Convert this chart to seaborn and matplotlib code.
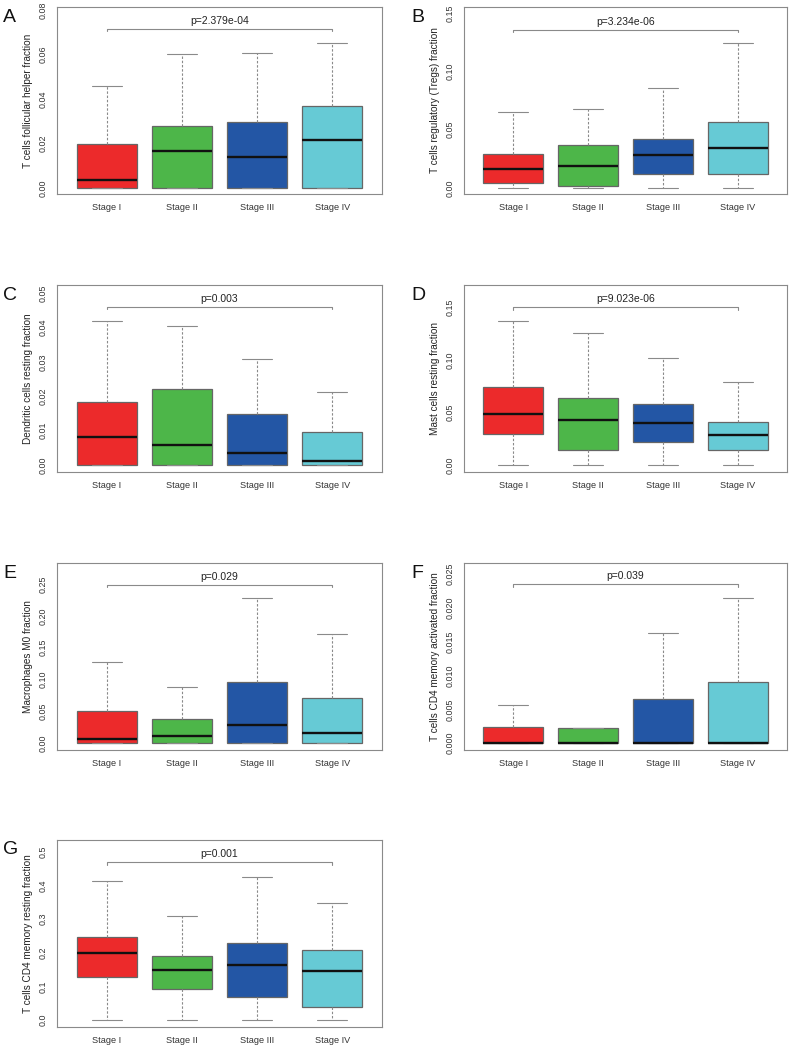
import numpy as np
import pandas as pd
import matplotlib
matplotlib.use("Agg")
import matplotlib.pyplot as plt
import seaborn as sns
from matplotlib.ticker import MultipleLocator, FormatStrFormatter

sns.set_style("white")
plt.rcParams["font.family"] = ["Liberation Sans", "DejaVu Sans"]

STAGES = ["Stage I", "Stage II", "Stage III", "Stage IV"]
STAGE_COLORS = ["#EC2A2B", "#4DB649", "#2356A5", "#66CAD5"]

# five-number summaries per stage: [lower whisker, Q1, median, Q3, upper whisker]
TFH = [[0, 0, 0.0035, 0.0197, 0.0459],
       [0, 0, 0.0168, 0.0278, 0.0603],
       [0, 0, 0.0140, 0.0299, 0.0608],
       [0, 0, 0.0218, 0.0368, 0.0653]]
TREG = [[0, 0.0040, 0.0160, 0.0291, 0.0651],
        [0, 0.0017, 0.0191, 0.0366, 0.0680],
        [0, 0.0123, 0.0280, 0.0417, 0.0860],
        [0, 0.0120, 0.0340, 0.0569, 0.1240]]
DC_REST = [[0, 0, 0.0081, 0.0182, 0.0419],
           [0, 0, 0.0057, 0.0221, 0.0404],
           [0, 0, 0.0034, 0.0147, 0.0309],
           [0, 0, 0.0012, 0.0097, 0.0211]]
MAST_REST = [[0, 0.0292, 0.0488, 0.0739, 0.1367],
             [0, 0.0146, 0.0431, 0.0634, 0.1253],
             [0, 0.0216, 0.0400, 0.0584, 0.1015],
             [0, 0.0146, 0.0289, 0.0406, 0.0787]]
MACRO_M0 = [[0, 0, 0.0058, 0.0510, 0.1268],
            [0, 0, 0.0105, 0.0374, 0.0874],
            [0, 0, 0.0284, 0.0953, 0.2274],
            [0, 0, 0.0153, 0.0711, 0.1721]]
CD4_ACT = [[0, 0, 0, 0.0024, 0.0057],
           [0, 0, 0, 0.0022, 0.0022],
           [0, 0, 0, 0.0066, 0.0162],
           [0, 0, 0, 0.0090, 0.0214]]
CD4_REST = [[0, 0.129, 0.199, 0.2485, 0.415],
            [0, 0.092, 0.1485, 0.189, 0.309],
            [0, 0.069, 0.164, 0.2297, 0.4257],
            [0, 0.0396, 0.1465, 0.207, 0.3475]]

PANEL_STATS = [TFH, TREG, DC_REST, MAST_REST, MACRO_M0, CD4_ACT, CD4_REST]
PANEL_LETTERS = ["A", "B", "C", "D", "E", "F", "G"]
YLABELS = ["T cells follicular helper fraction",
           "T cells regulatory (Tregs) fraction",
           "Dendritic cells resting fraction",
           "Mast cells resting fraction",
           "Macrophages M0 fraction",
           "T cells CD4 memory activated fraction",
           "T cells CD4 memory resting fraction"]
PVALUES = ["p=2.379e-04", "p=3.234e-06", "p=0.003", "p=9.023e-06",
           "p=0.029", "p=0.039", "p=0.001"]
P_BRACKET_Y = [0.0716, 0.1354, 0.0460, 0.1500, 0.2490, 0.02347, 0.470]

# axis settings (layout)
YLIMS = [(-0.0027, 0.0814), (-0.0051, 0.1551), (-0.0020, 0.0523), (-0.0066, 0.1710),
         (-0.0110, 0.2830), (-0.0010, 0.0266), (-0.0210, 0.5360)]
YSTEPS = [0.02, 0.05, 0.01, 0.05, 0.05, 0.005, 0.1]
YFMTS = ["%.2f", "%.2f", "%.2f", "%.2f", "%.2f", "%.3f", "%.1f"]

W, H = 792, 1047
COL_LEFT = [57, 464]
COL_WIDTH = [325, 323]
ROW_BOTTOM = [194, 472, 750, 1027]
AX_H = 187
GRAY = "#8a8a8a"


def draw_panel(ax, stats, ylabel, pval, p_y, ylim, ystep, yfmt):
    df = pd.DataFrame({
        "stage": np.repeat(STAGES, 5),
        "value": np.concatenate(stats),
    })
    sns.boxplot(
        data=df, x="stage", y="value", hue="stage", order=STAGES, hue_order=STAGES,
        palette=STAGE_COLORS, width=0.8, whis=(0, 100), saturation=1,
        linecolor="#666666", linewidth=0.9, showfliers=False, legend=False, ax=ax,
        medianprops=dict(color="#111111", linewidth=1.7),
        whiskerprops=dict(color=GRAY, linestyle=(0, (2.2, 1.6)), linewidth=0.8),
        capprops=dict(color=GRAY, linewidth=0.8),
    )
    ax.set_xlim(-0.66, 3.66)
    ax.set_ylim(*ylim)
    ax.yaxis.set_major_locator(MultipleLocator(ystep))
    ax.yaxis.set_major_formatter(FormatStrFormatter(yfmt))
    ax.set_xlabel("")
    ax.set_ylabel(ylabel, fontsize=7.2, color="#222222", labelpad=4)
    ax.tick_params(axis="both", direction="out", length=4, width=0.7, color=GRAY,
                   labelsize=6.6, labelcolor="#333333", pad=2.5)
    ax.tick_params(axis="y", labelrotation=90, labelsize=6.4)
    plt.setp(ax.get_yticklabels(), va="center")
    for spine in ax.spines.values():
        spine.set_visible(True)
        spine.set_color(GRAY)
        spine.set_linewidth(0.8)

    # comparison bracket from Stage I to Stage IV
    d = (ylim[1] - ylim[0]) * 2.5 / AX_H
    ax.plot([0, 0, 3, 3], [p_y - d, p_y, p_y, p_y - d], color=GRAY, linewidth=0.8)
    ax.annotate(pval, (1.5, p_y), xytext=(0, 2), textcoords="offset points",
                ha="center", va="bottom", fontsize=7.5, color="#222222")


fig = plt.figure(figsize=(W / 100, H / 100), dpi=100)
for i, stats in enumerate(PANEL_STATS):
    row, col = divmod(i, 2)
    rect = [COL_LEFT[col] / W, 1 - ROW_BOTTOM[row] / H, COL_WIDTH[col] / W, AX_H / H]
    ax = fig.add_axes(rect)
    draw_panel(ax, stats, YLABELS[i], PVALUES[i], P_BRACKET_Y[i],
               YLIMS[i], YSTEPS[i], YFMTS[i])
    top_px = ROW_BOTTOM[row] - AX_H
    letter_x = 3 if col == 0 else 411
    fig.text(letter_x / W, 1 - (top_px + 10) / H, PANEL_LETTERS[i],
             fontsize=14, ha="left", va="center", color="#111111")

fig.savefig("out.png", dpi=100)
